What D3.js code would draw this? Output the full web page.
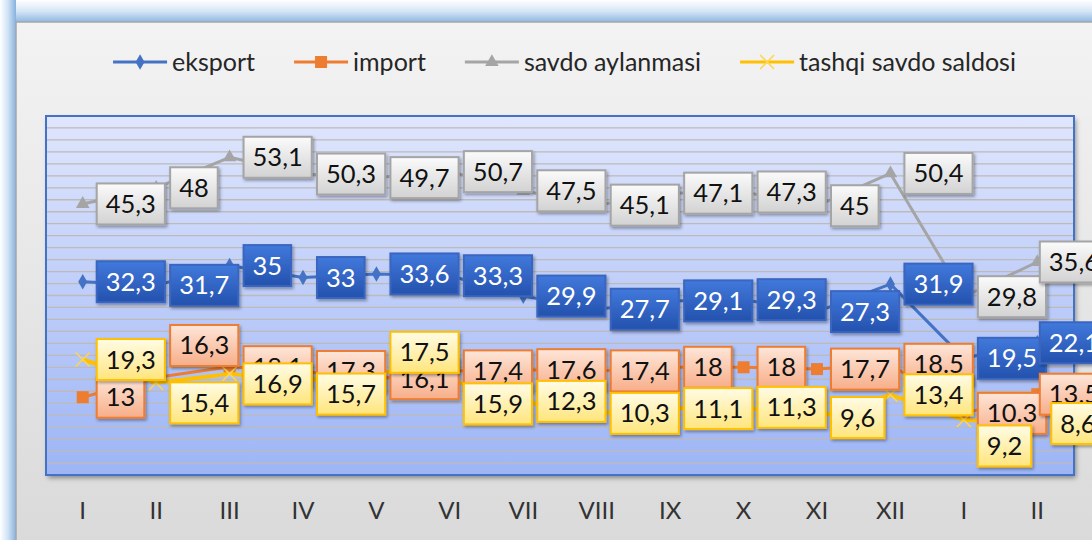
<!DOCTYPE html>
<html>
<head>
<meta charset="utf-8">
<script src="https://cdnjs.cloudflare.com/ajax/libs/d3/7.8.5/d3.min.js"></script>
<style>
  html, body { margin: 0; padding: 0; background: #fff; }
  svg { display: block; font-family: Lato, "Open Sans", sans-serif; }
</style>
</head>
<body>
<div id="chart"></div>
<script>
// months (two January / February at the end belong to the next year)
const months = ["I", "II", "III", "IV", "V", "VI", "VII", "VIII", "IX", "X", "XI", "XII", "I", "II"];

const eksport = [32.3, 31.7, 35, 33, 33.6, 33.3, 29.9, 27.7, 29.1, 29.3, 27.3, 31.9, 19.5, 22.1];
const importV = [13, 16.3, 18.1, 17.3, 16.1, 17.4, 17.6, 17.4, 18, 18, 17.7, 18.5, 10.3, 13.5];
const savdo   = [45.3, 48, 53.1, 50.3, 49.7, 50.7, 47.5, 45.1, 47.1, 47.3, 45, 50.4, 29.8, 35.6];
const saldo   = [19.3, 15.4, 16.9, 15.7, 17.5, 15.9, 12.3, 10.3, 11.1, 11.3, 9.6, 13.4, 9.2, 8.6];

// two import labels were typed with a dot in the original
const importLabels = ["13", "16,3", "18,1", "17,3", "16,1", "17,4", "17,6", "17,4", "18", "18", "17,7", "18.5", "10.3", "13,5"];

const yTicks = d3.range(0, 61, 2);

const fmt = v => String(v).replace(".", ",");

const series = [
    {name: "eksport", values: eksport, color: "#4472c4", marker: "diamond", width: 3,
     box: {top: "#4179dc", bottom: "#2451ad", stroke: "#3a66bf", text: "#fff"}},
    {name: "import", values: importV, labels: importLabels, color: "#ed7d31", marker: "square", width: 3,
     box: {top: "#fee6d9", bottom: "#f7ae89", stroke: "#ed7d31", text: "#111"}},
    {name: "savdo aylanmasi", values: savdo, color: "#a5a5a5", marker: "triangle", width: 3,
     box: {top: "#fbfbfb", bottom: "#d2d2d2", stroke: "#a5a5a5", text: "#111"}},
    {name: "tashqi savdo saldosi", values: saldo, color: "#ffc000", marker: "x", width: 4,
     box: {top: "#fffce6", bottom: "#ffe57c", stroke: "#ffc000", text: "#111"}}
];

// labels that were dragged off the point in the original (pixels, vertical)
const labelNudge = {
    "import": {1: -32},
    "tashqi savdo saldosi": {1: 20, 2: 10, 3: 13, 4: -18, 5: 24, 12: 26}
};

const W = 1092, H = 540;
const chartBox = {x: 16, y: 22, right: 1108, bottom: 580};
const plot = {left: 46, right: 1074, top: 116, bottom: 475};

const svg = d3.select("#chart").append("svg")
    .attr("width", W)
    .attr("height", H);

const defs = svg.append("defs");

function vGrad(id, stops) {
    const g = defs.append("linearGradient").attr("id", id)
        .attr("x1", 0).attr("y1", 0).attr("x2", 0).attr("y2", 1);
    stops.forEach(s => g.append("stop").attr("offset", s[0]).attr("stop-color", s[1]));
}
function hGrad(id, stops) {
    const g = defs.append("linearGradient").attr("id", id)
        .attr("x1", 0).attr("y1", 0).attr("x2", 1).attr("y2", 0);
    stops.forEach(s => g.append("stop").attr("offset", s[0]).attr("stop-color", s[1]));
}

vGrad("glowTop", [[0, "#ffffff"], [0.5, "#d6e6f6"], [1, "#8fb8e3"]]);
hGrad("glowLeft", [[0, "#ffffff"], [0.5, "#cfe2f4"], [1, "#86b2df"]]);
vGrad("chartFill", [[0, "#f3f3f3"], [1, "#d8d8d8"]]);
vGrad("plotFill", [[0, "#dfe6fd"], [1, "#9db5f6"]]);
series.forEach((s, i) => vGrad("box" + i, [[0, s.box.top], [1, s.box.bottom]]));

const shadow = defs.append("filter").attr("id", "shadow")
    .attr("x", "-20%").attr("y", "-20%").attr("width", "150%").attr("height", "160%");
shadow.append("feDropShadow").attr("dx", 1.5).attr("dy", 2).attr("stdDeviation", 1.5)
    .attr("flood-color", "#000").attr("flood-opacity", 0.35);

const plotShadow = defs.append("filter").attr("id", "plotShadow")
    .attr("x", "-5%").attr("y", "-5%").attr("width", "110%").attr("height", "115%");
plotShadow.append("feDropShadow").attr("dx", 2).attr("dy", 3).attr("stdDeviation", 2.5)
    .attr("flood-color", "#000").attr("flood-opacity", 0.4);

// blue glow around the chart frame
svg.append("rect").attr("x", 0).attr("y", 0).attr("width", W).attr("height", chartBox.y)
    .attr("fill", "url(#glowTop)");
svg.append("rect").attr("x", 0).attr("y", 0).attr("width", chartBox.x).attr("height", H)
    .attr("fill", "url(#glowLeft)");

// chart area
svg.append("rect")
    .attr("x", chartBox.x).attr("y", chartBox.y)
    .attr("width", chartBox.right - chartBox.x)
    .attr("height", chartBox.bottom - chartBox.y)
    .attr("fill", "url(#chartFill)")
    .attr("stroke", "#a6a6a6")
    .attr("stroke-width", 1.5);

// scales
const x = d3.scaleBand()
    .domain(d3.range(months.length))
    .range([plot.left, plot.right]);
const cx = i => x(i) + x.bandwidth() / 2;

const y = d3.scaleLinear()
    .domain([0, 60])
    .range([plot.bottom, plot.top]);

// plot area
svg.append("rect")
    .attr("x", plot.left).attr("y", plot.top)
    .attr("width", plot.right - plot.left)
    .attr("height", plot.bottom - plot.top)
    .attr("fill", "url(#plotFill)")
    .attr("filter", "url(#plotShadow)");

svg.append("g")
    .selectAll("line")
    .data(yTicks.filter(t => t > 0 && t < 60))
    .enter()
    .append("line")
    .attr("x1", plot.left).attr("x2", plot.right)
    .attr("y1", d => y(d)).attr("y2", d => y(d))
    .attr("stroke", "#bdbab8")
    .attr("stroke-width", 1.3);

svg.append("rect")
    .attr("x", plot.left).attr("y", plot.top)
    .attr("width", plot.right - plot.left)
    .attr("height", plot.bottom - plot.top)
    .attr("fill", "none")
    .attr("stroke", "#4472c4")
    .attr("stroke-width", 2);

// x axis labels
svg.append("g")
    .selectAll("text")
    .data(months)
    .enter()
    .append("text")
    .attr("x", (d, i) => cx(i))
    .attr("y", 519)
    .attr("text-anchor", "middle")
    .attr("font-size", 24)
    .attr("fill", "#333")
    .text(d => d);

// markers
function drawMarker(g, type, color) {
    if (type === "diamond") {
        g.append("path").attr("d", d3.symbol(d3.symbolDiamond, 70)()).attr("fill", color);
    } else if (type === "square") {
        g.append("rect").attr("x", -6).attr("y", -6).attr("width", 12).attr("height", 12).attr("fill", color);
    } else if (type === "triangle") {
        g.append("path").attr("d", d3.symbol(d3.symbolTriangle, 80)()).attr("fill", color);
    } else {
        g.append("path").attr("d", "M-7,-7L7,7M-7,7L7,-7")
            .attr("stroke", "#ffd54f").attr("stroke-width", 1.5).attr("fill", "none");
    }
}

const line = d3.line()
    .x((d, i) => cx(i))
    .y(d => y(d));

const linesG = svg.append("g");
series.forEach(s => {
    linesG.append("path")
        .datum(s.values)
        .attr("d", line)
        .attr("fill", "none")
        .attr("stroke", s.color)
        .attr("stroke-width", s.width)
        .attr("stroke-linejoin", "round");
    s.values.forEach((v, i) => {
        const m = linesG.append("g").attr("transform", `translate(${cx(i)},${y(v)})`);
        drawMarker(m, s.marker, s.color);
    });
});

// data labels in boxes, right of each point
const labelsG = svg.append("g");
series.forEach((s, si) => {
    const nudge = labelNudge[s.name] || {};
    s.values.forEach((v, i) => {
        const txt = s.labels ? s.labels[i] : fmt(v);
        const g = labelsG.append("g");
        const t = g.append("text")
            .attr("font-size", 25.5)
            .attr("fill", s.box.text)
            .attr("text-anchor", "middle")
            .text(txt);
        const tw = t.node().getComputedTextLength();
        const bw = tw + 18, bh = 41;
        let left = cx(i) + 14;
        left = Math.min(left, chartBox.right - bw);
        const cy = y(v) + (nudge[i] || 0);
        g.insert("rect", "text")
            .attr("x", left).attr("y", cy - bh / 2)
            .attr("width", bw).attr("height", bh)
            .attr("fill", `url(#box${si})`)
            .attr("stroke", s.box.stroke)
            .attr("stroke-width", 2)
            .attr("filter", "url(#shadow)");
        t.attr("x", left + bw / 2).attr("y", cy + 9);
    });
});

// legend
const legend = svg.append("g");
let lx = 0;
series.forEach((s, si) => {
    const item = legend.append("g").attr("transform", `translate(${lx},0)`);
    item.append("line")
        .attr("x1", 0).attr("x2", 54).attr("y1", 0).attr("y2", 0)
        .attr("stroke", s.color).attr("stroke-width", 3);
    const m = item.append("g").attr("transform", "translate(27,0)");
    drawMarker(m, s.marker, s.color);
    const t = item.append("text")
        .attr("x", 59).attr("y", 9)
        .attr("font-size", 25)
        .attr("fill", "#262626")
        .text(s.name);
    lx += 59 + t.node().getComputedTextLength() + 39;
});
const legendWidth = lx - 39;
legend.attr("transform", `translate(${564.5 - legendWidth / 2},62)`);
</script>
</body>
</html>
